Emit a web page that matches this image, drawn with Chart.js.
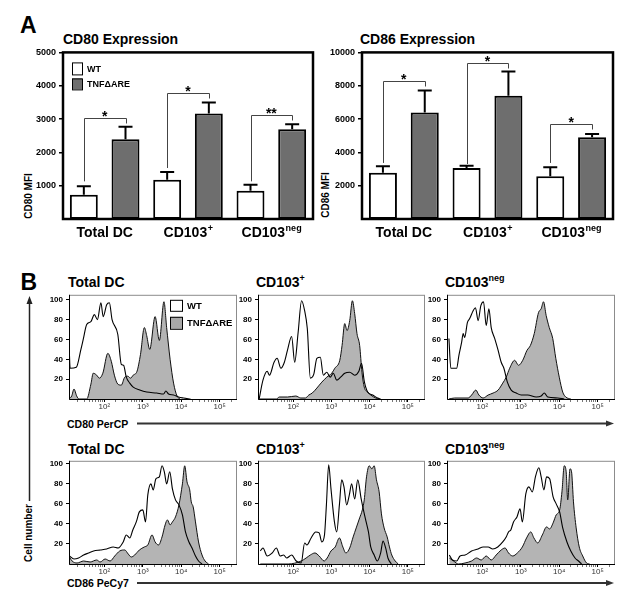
<!DOCTYPE html>
<html>
<head>
<meta charset="utf-8">
<script src="https://cdn.jsdelivr.net/npm/chart.js@4.4.1/dist/chart.umd.min.js"></script>
<style>
  body { margin: 0; background: #fff; }
  #fig { position: relative; width: 637px; height: 601px; overflow: hidden; font-family: 'Liberation Sans', Arial, sans-serif; }
  #fig canvas, .t { position: absolute; }
  .t { font-weight: bold; line-height: 1; white-space: nowrap; color: #000; }
  .sup { font-size: 9px; position: relative; top: -6px; }
  .rot { width: 100px; line-height: 12px; text-align: center; transform: rotate(-90deg); }
</style>
</head>
<body>
<div id="fig">
  <div class="t" style="left:20px;top:13.8px;font-size:23px">A</div>
  <div class="t" style="left:63px;top:31.5px;font-size:14px">CD80 Expression</div>
  <div class="t" style="left:360px;top:31.5px;font-size:14px">CD86 Expression</div>
  <div class="t rot" style="left:-21px;top:190px;font-size:10px">CD80 MFI</div>
  <div class="t rot" style="left:275.5px;top:189px;font-size:10px">CD86 MFI</div>

  <div class="t" style="left:20.5px;top:270.5px;font-size:23px">B</div>
  <div class="t" style="left:68px;top:274.6px;font-size:14px">Total DC</div>
  <div class="t" style="left:256px;top:274.6px;font-size:14px">CD103<span class="sup">+</span></div>
  <div class="t" style="left:445px;top:274.6px;font-size:14px">CD103<span class="sup">neg</span></div>
  <div class="t" style="left:68px;top:441.5px;font-size:14px">Total DC</div>
  <div class="t" style="left:256px;top:441.5px;font-size:14px">CD103<span class="sup">+</span></div>
  <div class="t" style="left:445px;top:441.5px;font-size:14px">CD103<span class="sup">neg</span></div>
  <div class="t" style="left:67px;top:419.4px;font-size:10.5px">CD80 PerCP</div>
  <div class="t" style="left:67px;top:577.8px;font-size:10.5px">CD86 PeCy7</div>
  <div class="t rot" style="left:-21.3px;top:526.5px;font-size:10px">Cell number</div>

  <svg width="637" height="601" style="position:absolute;left:0;top:0">
    <line x1="137" y1="423.5" x2="608" y2="423.5" stroke="#333" stroke-width="2"/>
    <polygon points="614,423.5 606,420.5 606,426.5" fill="#333"/>
    <line x1="137" y1="583" x2="608" y2="583" stroke="#333" stroke-width="2"/>
    <polygon points="614,583 606,580 606,586" fill="#333"/>
    <line x1="29.5" y1="303" x2="29.5" y2="501" stroke="#222" stroke-width="1.5"/>
    <polygon points="29.5,296 26.5,304 32.5,304" fill="#222"/>
  </svg>

  <canvas id="cd80" width="290" height="204" style="left:30px;top:44px"></canvas>
  <canvas id="cd86" width="291" height="204" style="left:329px;top:44px"></canvas>

  <canvas id="h80total" width="196" height="130" style="left:45px;top:287px"></canvas>
  <canvas id="h80pos" width="195" height="130" style="left:234px;top:287px"></canvas>
  <canvas id="h80neg" width="196" height="130" style="left:423px;top:287px"></canvas>
  <canvas id="h86total" width="196" height="129" style="left:45px;top:453px"></canvas>
  <canvas id="h86pos" width="195" height="129" style="left:234px;top:453px"></canvas>
  <canvas id="h86neg" width="196" height="129" style="left:423px;top:453px"></canvas>
</div>
<script>
Chart.defaults.font.family = "'Liberation Sans', Arial, sans-serif";
Chart.defaults.color = '#000';

// panel A - MFI per DC subset
const groups = ['Total DC', 'CD103+', 'CD103neg'];
const groupBase = ['Total DC', 'CD103', 'CD103'];
const groupSup = ['', '+', 'neg'];

const cd80Wt = [730, 1180, 850];
const cd80WtSem = [250, 230, 180];
const cd80Tnf = [2390, 3170, 2690];
const cd80TnfSem = [380, 330, 150];
const cd80Ticks = [1000, 2000, 3000, 4000, 5000];
const cd80Sig = ['*', '*', '**'];
const cd80SigTop = [3020, 3790, 3120];
const cd80SigFoot = [1130, 1530, 1130];

const cd86Wt = [2770, 3065, 2565];
const cd86WtSem = [390, 135, 535];
const cd86Tnf = [6395, 7395, 4900];
const cd86TnfSem = [1315, 1455, 200];
const cd86Ticks = [2000, 4000, 6000, 8000, 10000];
const cd86Sig = ['*', '*', '*'];
const cd86SigTop = [8290, 9350, 5700];
const cd86SigFoot = [3365, 3300, 3365];

// panel B - histograms, [log10 intensity, % of max]
const decadeTicks = [2, 3, 4, 5];
const decadeLabels = ['10²', '10³', '10⁴', '10⁵'];
const countTicks = [20, 40, 60, 80, 100];

const cd80TotalWt = [[1.08,58],[1.11,31],[1.27,32],[1.39,50],[1.45,60],[1.54,75],[1.65,78],[1.74,85],[1.82,80],[1.91,97],[1.97,83],[2.06,95],[2.13,97],[2.20,80],[2.35,65],[2.44,35],[2.50,34],[2.57,22],[2.66,16],[2.75,12],[2.92,9],[3.10,7],[3.36,6],[3.54,5],[3.60,8],[3.67,5],[3.80,4],[3.93,2],[4.06,1],[4.24,0]];
const cd80TotalTnf = [[1.08,0],[1.15,3],[1.21,10],[1.28,3],[1.34,0],[1.54,0],[1.65,15],[1.71,26],[1.80,24],[1.87,21],[1.96,26],[2.09,46],[2.18,38],[2.26,24],[2.35,15],[2.44,14],[2.53,22],[2.61,23],[2.68,21],[2.75,24],[2.85,28],[2.94,45],[3.04,72],[3.10,64],[3.18,50],[3.32,83],[3.43,59],[3.55,98],[3.62,72],[3.71,40],[3.80,16],[3.89,3],[3.97,0]];
const cd80PosWt = [[1.11,0],[1.21,19],[1.32,28],[1.38,24],[1.50,37],[1.58,41],[1.68,31],[1.77,37],[1.85,49],[1.96,63],[2.04,37],[2.13,67],[2.22,99],[2.30,89],[2.37,71],[2.45,21],[2.54,25],[2.62,41],[2.71,42],[2.79,24],[2.88,27],[2.97,22],[3.05,26],[3.14,19],[3.24,22],[3.35,26],[3.48,27],[3.61,24],[3.72,28],[3.79,36],[3.86,18],[3.95,7],[4.08,4],[4.21,1],[4.29,0]];
const cd80PosTnf = [[1.11,0],[1.56,0],[1.64,2],[1.85,2],[2.07,3],[2.20,1],[2.32,1],[2.41,4],[2.50,6],[2.62,11],[2.75,17],[2.88,22],[3.01,26],[3.09,31],[3.22,39],[3.28,54],[3.35,76],[3.41,69],[3.48,79],[3.55,99],[3.61,86],[3.67,66],[3.74,54],[3.80,27],[3.86,12],[3.95,7],[4.03,4],[4.16,1],[4.25,0]];
const cd80NegWt = [[1.13,61],[1.18,31],[1.33,31],[1.39,44],[1.46,57],[1.50,66],[1.54,62],[1.61,77],[1.67,81],[1.76,89],[1.82,92],[1.89,79],[1.96,94],[2.03,98],[2.10,74],[2.17,91],[2.23,72],[2.32,61],[2.41,49],[2.49,37],[2.56,31],[2.65,17],[2.75,9],[2.88,6],[3.01,4],[3.18,4],[3.40,2],[3.53,3],[3.61,6],[3.70,2],[3.96,1],[4.13,0]];
const cd80NegTnf = [[1.13,0],[1.28,1],[1.63,1],[1.72,4],[1.83,9],[1.91,4],[2.02,1],[2.15,4],[2.28,6],[2.41,9],[2.53,16],[2.62,22],[2.71,31],[2.84,39],[2.94,34],[3.05,39],[3.16,49],[3.25,54],[3.35,66],[3.46,87],[3.53,91],[3.59,98],[3.66,84],[3.74,72],[3.83,61],[3.91,41],[4.00,22],[4.09,7],[4.17,2],[4.30,0]];

const cd86TotalWt = [[1.09,8],[1.21,5],[1.33,6],[1.46,9],[1.59,11],[1.72,13],[1.89,14],[2.06,15],[2.23,17],[2.36,16],[2.49,22],[2.57,29],[2.66,26],[2.74,34],[2.83,42],[2.91,52],[3.00,54],[3.07,42],[3.13,69],[3.21,80],[3.27,74],[3.34,85],[3.43,87],[3.50,98],[3.56,92],[3.62,80],[3.70,92],[3.77,75],[3.85,64],[3.94,59],[4.03,49],[4.11,32],[4.20,22],[4.28,16],[4.37,8],[4.45,3],[4.54,0]];
const cd86TotalTnf = [[1.09,7],[1.16,3],[1.29,1],[1.46,3],[1.63,2],[1.80,4],[1.89,2],[2.02,5],[2.15,3],[2.27,8],[2.40,13],[2.53,14],[2.62,10],[2.70,7],[2.79,9],[2.91,14],[3.04,17],[3.13,19],[3.24,29],[3.32,22],[3.41,19],[3.50,27],[3.58,39],[3.64,44],[3.71,39],[3.77,42],[3.85,47],[3.94,59],[4.03,80],[4.09,98],[4.15,82],[4.22,74],[4.26,62],[4.31,57],[4.37,42],[4.45,22],[4.54,9],[4.62,3],[4.71,0]];
const cd86PosWt = [[1.14,13],[1.21,16],[1.32,8],[1.45,11],[1.56,16],[1.66,8],[1.75,9],[1.83,6],[1.96,9],[2.08,3],[2.21,1],[2.30,21],[2.36,19],[2.47,26],[2.59,32],[2.68,31],[2.75,22],[2.82,29],[2.87,59],[2.93,99],[2.99,75],[3.08,42],[3.14,32],[3.21,59],[3.27,84],[3.33,77],[3.40,59],[3.47,69],[3.53,80],[3.61,65],[3.69,84],[3.78,65],[3.85,52],[3.91,42],[3.97,32],[4.03,17],[4.12,9],[4.20,3],[4.29,11],[4.35,23],[4.42,16],[4.48,6],[4.57,0]];
const cd86PosTnf = [[1.14,0],[1.87,0],[2.21,3],[2.34,6],[2.45,9],[2.57,11],[2.68,8],[2.81,3],[2.89,6],[2.99,13],[3.10,17],[3.21,26],[3.30,17],[3.38,11],[3.48,16],[3.57,27],[3.65,36],[3.74,46],[3.81,54],[3.86,64],[3.92,87],[3.99,98],[4.06,95],[4.12,98],[4.18,84],[4.25,72],[4.31,50],[4.38,36],[4.46,27],[4.52,17],[4.58,9],[4.67,3],[4.75,0]];
const cd86NegWt = [[1.14,9],[1.22,4],[1.33,3],[1.42,8],[1.55,9],[1.72,13],[1.89,15],[2.02,17],[2.15,17],[2.27,15],[2.40,17],[2.53,22],[2.62,27],[2.68,32],[2.74,34],[2.81,42],[2.90,47],[2.98,55],[3.04,42],[3.13,70],[3.21,77],[3.30,72],[3.38,87],[3.47,96],[3.53,87],[3.60,74],[3.67,87],[3.75,85],[3.84,67],[3.92,60],[4.01,52],[4.09,36],[4.20,22],[4.30,13],[4.41,6],[4.50,3],[4.58,0]];
const cd86NegTnf = [[1.14,6],[1.25,3],[1.38,0],[1.55,1],[1.72,3],[1.85,6],[1.97,4],[2.10,8],[2.23,4],[2.36,9],[2.49,14],[2.59,16],[2.68,11],[2.79,8],[2.91,11],[3.04,17],[3.15,26],[3.26,32],[3.34,26],[3.44,21],[3.56,29],[3.67,37],[3.75,35],[3.84,41],[3.92,49],[4.01,54],[4.07,72],[4.13,98],[4.18,92],[4.22,64],[4.28,95],[4.32,92],[4.37,62],[4.44,36],[4.52,17],[4.61,8],[4.71,1],[4.79,0]];

const barGray = '#6e6e6e';
const histGray = '#b4b4b4';
const keyGray = '#a8a8a8';

function drawKey(ctx, x, y, w, h, fill, text, font) {
    ctx.fillStyle = fill;
    ctx.fillRect(x, y, w, h);
    ctx.strokeStyle = '#000';
    ctx.lineWidth = 1;
    ctx.strokeRect(x + 0.5, y + 0.5, w, h);
    ctx.fillStyle = '#000';
    ctx.font = font;
    ctx.textAlign = 'left';
    ctx.textBaseline = 'middle';
    ctx.fillText(text, x + w + 5, y + h / 2 + 1);
}

const frameA = {
    id: 'frameA',
    afterDatasetsDraw(chart) {
        const a = chart.chartArea, ctx = chart.ctx;
        ctx.save();
        ctx.strokeStyle = '#000';
        ctx.lineWidth = 2.5;
        ctx.strokeRect(a.left, a.top, a.right - a.left, a.bottom - a.top);
        ctx.restore();
    }
};

const errorBars = {
    id: 'errorBars',
    afterDatasetsDraw(chart) {
        const ctx = chart.ctx, y = chart.scales.y;
        ctx.save();
        ctx.strokeStyle = '#000';
        ctx.lineWidth = 2;
        chart.data.datasets.forEach((ds, di) => {
            chart.getDatasetMeta(di).data.forEach((bar, i) => {
                const top = y.getPixelForValue(ds.data[i] + ds.sem[i]);
                ctx.beginPath();
                ctx.moveTo(bar.x, bar.y);
                ctx.lineTo(bar.x, top);
                ctx.moveTo(bar.x - 7, top);
                ctx.lineTo(bar.x + 7, top);
                ctx.stroke();
            });
        });
        ctx.restore();
    }
};

function sigPlugin(stars, tops, feet) {
    return {
        id: 'sig',
        afterDatasetsDraw(chart) {
            const ctx = chart.ctx, y = chart.scales.y, x = chart.scales.x;
            const wt = chart.getDatasetMeta(0).data, tnf = chart.getDatasetMeta(1).data;
            ctx.save();
            ctx.strokeStyle = '#444';
            ctx.lineWidth = 1;
            ctx.fillStyle = '#000';
            ctx.font = 'bold 14px "Liberation Sans", Arial';
            ctx.textAlign = 'center';
            ctx.textBaseline = 'alphabetic';
            stars.forEach((s, i) => {
                const yl = Math.round(y.getPixelForValue(tops[i])) + 0.5;
                const x1 = Math.round(wt[i].x) + 0.5, x2 = Math.round(tnf[i].x) + 0.5;
                ctx.beginPath();
                ctx.moveTo(x1, y.getPixelForValue(feet[i]));
                ctx.lineTo(x1, yl);
                ctx.lineTo(x2, yl);
                ctx.lineTo(x2, yl + 5);
                ctx.stroke();
                ctx.fillText(s, x.getPixelForTick(i), yl + 2);
            });
            ctx.restore();
        }
    };
}

const groupLabels = {
    id: 'groupLabels',
    afterDraw(chart) {
        const ctx = chart.ctx, x = chart.scales.x, base = chart.chartArea.bottom + 18;
        ctx.save();
        ctx.fillStyle = '#000';
        ctx.textAlign = 'left';
        ctx.textBaseline = 'alphabetic';
        groupBase.forEach((t, i) => {
            ctx.font = 'bold 14px "Liberation Sans", Arial';
            const w1 = ctx.measureText(t).width;
            ctx.font = 'bold 9px "Liberation Sans", Arial';
            const w2 = groupSup[i] ? ctx.measureText(groupSup[i]).width : 0;
            const left = x.getPixelForTick(i) - (w1 + w2) / 2;
            ctx.font = 'bold 14px "Liberation Sans", Arial';
            ctx.fillText(t, left, base);
            if (groupSup[i]) {
                ctx.font = 'bold 9px "Liberation Sans", Arial';
                ctx.fillText(groupSup[i], left + w1 + 0.5, base - 6);
            }
        });
        ctx.restore();
    }
};

const keyA = {
    id: 'keyA',
    afterDraw(chart) {
        const a = chart.chartArea, ctx = chart.ctx, ds = chart.data.datasets;
        ctx.save();
        drawKey(ctx, a.left + 9, a.top + 10, 10, 12, '#fff', ds[0].label, 'bold 9px "Liberation Sans", Arial');
        drawKey(ctx, a.left + 9, a.top + 26, 10, 11, barGray, ds[1].label, 'bold 9px "Liberation Sans", Arial');
        ctx.restore();
    }
};

function mfiChart(id, wt, wtSem, tnf, tnfSem, yMax, yTicks, stars, tops, feet, withKey) {
    const sets = [
        { label: 'WT', data: wt, sem: wtSem, backgroundColor: '#fff' },
        { label: 'TNFΔARE', data: tnf, sem: tnfSem, backgroundColor: barGray }
    ];
    sets.forEach(d => Object.assign(d, {
        borderColor: '#000', borderWidth: 2, borderSkipped: false,
        categoryPercentage: 1, barPercentage: 0.67
    }));
    const plugins = [frameA, errorBars, sigPlugin(stars, tops, feet), groupLabels];
    if (withKey) plugins.push(keyA);
    new Chart(id, {
        type: 'bar',
        data: { labels: groups, datasets: sets },
        options: {
            responsive: false,
            animation: false,
            devicePixelRatio: 1,
            layout: { padding: { top: 8, right: 7, left: 0, bottom: 0 } },
            plugins: { legend: { display: false }, tooltip: { enabled: false } },
            scales: {
                x: {
                    ticks: { display: false },
                    grid: { display: false },
                    border: { display: false },
                    afterFit: s => { s.height = 29; }
                },
                y: {
                    min: 0, max: yMax,
                    afterBuildTicks: s => { s.ticks = yTicks.map(v => ({ value: v })); },
                    ticks: { font: { size: 9, weight: 'bold' }, padding: 3, callback: v => String(v) },
                    grid: { drawOnChartArea: false, tickLength: 4, color: '#000', lineWidth: 1.5 },
                    border: { display: false },
                    afterFit: s => { s.width = 33; }
                }
            }
        },
        plugins: plugins
    });
}

mfiChart('cd80', cd80Wt, cd80WtSem, cd80Tnf, cd80TnfSem, 5000, cd80Ticks, cd80Sig, cd80SigTop, cd80SigFoot, true);
mfiChart('cd86', cd86Wt, cd86WtSem, cd86Tnf, cd86TnfSem, 10000, cd86Ticks, cd86Sig, cd86SigTop, cd86SigFoot, false);

// histogram axis: decades plus minor ticks
const logTicks = [];
for (let n = 1; n <= 5; n++) {
    for (let k = 1; k <= 9; k++) {
        const v = n + Math.log10(k);
        if (v >= 1.08 && v <= 5.45) logTicks.push({ value: k === 1 ? n : v });
    }
}

const frameB = {
    id: 'frameB',
    afterDraw(chart) {
        const a = chart.chartArea, ctx = chart.ctx;
        ctx.save();
        ctx.strokeStyle = '#8c8c8c';
        ctx.lineWidth = 1;
        ctx.strokeRect(a.left + 0.5, a.top + 0.5, a.right - a.left - 1, a.bottom - a.top);
        ctx.strokeStyle = '#000';
        ctx.beginPath();
        ctx.moveTo(a.left + 0.5, a.top);
        ctx.lineTo(a.left + 0.5, a.bottom + 0.5);
        ctx.lineTo(a.right, a.bottom + 0.5);
        ctx.stroke();
        ctx.restore();
    }
};

const keyB = {
    id: 'keyB',
    afterDraw(chart) {
        const a = chart.chartArea, ctx = chart.ctx, ds = chart.data.datasets;
        ctx.save();
        drawKey(ctx, a.left + 101, a.top + 5, 12, 11, '#fff', ds[0].label, 'bold 9.5px "Liberation Sans", Arial');
        drawKey(ctx, a.left + 101, a.top + 22, 12, 12, keyGray, ds[1].label, 'bold 9.5px "Liberation Sans", Arial');
        ctx.restore();
    }
};

const toXY = pts => pts.map(p => ({ x: p[0], y: p[1] }));

function histChart(id, wt, tnf, yMax, withKey) {
    const plugins = [frameB];
    if (withKey) plugins.push(keyB);
    new Chart(id, {
        type: 'line',
        data: {
            datasets: [
                { label: 'WT', data: toXY(wt), borderColor: '#000', borderWidth: 1.1, fill: false,
                  pointRadius: 0, cubicInterpolationMode: 'monotone' },
                { label: 'TNFΔARE', data: toXY(tnf), borderColor: '#111', borderWidth: 1, backgroundColor: histGray,
                  fill: 'origin', pointRadius: 0, cubicInterpolationMode: 'monotone' }
            ]
        },
        options: {
            responsive: false,
            animation: false,
            devicePixelRatio: 1,
            layout: { padding: { top: 6, right: 4, left: 0, bottom: 0 } },
            plugins: { legend: { display: false }, tooltip: { enabled: false } },
            scales: {
                x: {
                    type: 'linear', min: 1.08, max: 5.45,
                    afterBuildTicks: s => { s.ticks = logTicks.map(t => ({ value: t.value })); },
                    ticks: {
                        autoSkip: false, maxRotation: 0, padding: 0, color: '#333',
                        font: { size: 8 },
                        callback: v => { const i = decadeTicks.indexOf(v); return i < 0 ? '' : decadeLabels[i]; }
                    },
                    grid: {
                        drawOnChartArea: false, tickLength: 3,
                        tickColor: c => (c.tick && Number.isInteger(c.tick.value)) ? '#000' : '#777'
                    },
                    border: { display: false },
                    afterFit: s => { s.height = 18; }
                },
                y: {
                    min: 0, max: yMax,
                    afterBuildTicks: s => { s.ticks = countTicks.map(v => ({ value: v })); },
                    ticks: { font: { size: 8, weight: 'bold' }, padding: 3 },
                    grid: { drawOnChartArea: false, tickLength: 3, color: '#000' },
                    border: { display: false },
                    afterFit: s => { s.width = 24; }
                }
            }
        },
        plugins: plugins
    });
}

histChart('h80total', cd80TotalWt, cd80TotalTnf, 105, true);
histChart('h80pos', cd80PosWt, cd80PosTnf, 105, false);
histChart('h80neg', cd80NegWt, cd80NegTnf, 105, false);
histChart('h86total', cd86TotalWt, cd86TotalTnf, 103, false);
histChart('h86pos', cd86PosWt, cd86PosTnf, 103, false);
histChart('h86neg', cd86NegWt, cd86NegTnf, 103, false);
</script>
</body>
</html>
